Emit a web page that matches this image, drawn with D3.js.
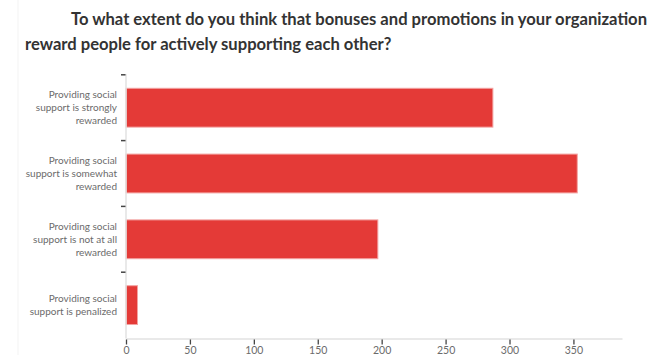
<!DOCTYPE html>
<html><head><meta charset="utf-8">
<script src="https://cdn.jsdelivr.net/npm/d3@7"></script>
<style>body{margin:0;background:#fff}svg{display:block}</style>
</head><body>
<svg id="chart" width="669" height="355"></svg>
<script>
const titleLines = [
  "To what extent do you think that bonuses and promotions in your organization",
  "reward people for actively supporting each other?"
];
const categories = [
  ["Providing social", "support is strongly", "rewarded"],
  ["Providing social", "support is somewhat", "rewarded"],
  ["Providing social", "support is not at all", "rewarded"],
  ["Providing social", "support is penalized"]
];
const values = [287, 353, 197, 9];
const xTicks = [0, 50, 100, 150, 200, 250, 300, 350];

const svg = d3.select("#chart");
svg.append("line").attr("x1",18).attr("x2",18).attr("y1",0).attr("y2",355)
  .attr("stroke","#f3f3f3").attr("stroke-width",1);

const x = d3.scaleLinear().domain([0, 388]).range([126, 622]);
const y = d3.scaleBand().domain(d3.range(categories.length)).range([74.8, 338])
  .paddingInner(0.41).paddingOuter(0.205);

// title
svg.append("g").selectAll("text").data(titleLines).join("text")
  .attr("x", (d,i) => i === 0 ? 71 : 25)
  .attr("y", (d,i) => 25 + i*24.5)
  .attr("font-family", "Lato, 'Open Sans', sans-serif")
  .attr("font-weight", "bold")
  .attr("font-size", 16.6)
  .attr("fill", "#333")
  .text(d => d);

// bars
svg.append("g").selectAll("rect").data(values).join("rect")
  .attr("x", x(0))
  .attr("y", (d,i) => y(i))
  .attr("width", d => x(d) - x(0))
  .attr("height", y.bandwidth())
  .attr("fill", "#e43a37")
  .attr("stroke", "#f3a3a2")
  .attr("stroke-width", 1);

// y axis
const yAxisG = svg.append("g");
yAxisG.append("line").attr("x1", 126).attr("x2", 126).attr("y1", 74).attr("y2", 338.5)
  .attr("stroke", "#e2e2e2").attr("stroke-width", 1.5);
const sep = d3.range(categories.length).map(i => y(i) + y.bandwidth()/2 - y.step()/2);
yAxisG.selectAll("line.t").data(sep).join("line").attr("class","t")
  .attr("x1", 121).attr("x2", 125.5).attr("y1", d => d).attr("y2", d => d)
  .attr("stroke", "#444").attr("stroke-width", 1.5);

// y labels
const lab = svg.append("g").selectAll("text").data(categories).join("text")
  .attr("text-anchor", "end")
  .attr("font-family", "Lato, 'Open Sans', sans-serif")
  .attr("font-size", 10)
  .attr("fill", "#6b6b6b");
lab.each(function(lines, i) {
  const c = y(i) + y.bandwidth()/2;
  const lh = 13;
  d3.select(this).selectAll("tspan").data(lines).join("tspan")
    .attr("x", 117)
    .attr("y", (d,j) => c + (j - (lines.length-1)/2)*lh + 3.5)
    .text(d => d);
});

// x axis
const xAxis = d3.axisBottom(x).tickValues(xTicks).tickSize(5).tickPadding(3).tickSizeOuter(0);
const xg = svg.append("g").attr("transform", "translate(0,338.5)").call(xAxis);
xg.select(".domain").attr("stroke", "#e2e2e2").attr("stroke-width", 1.5);
xg.selectAll(".tick line").attr("stroke", "#444").attr("stroke-width", 1.3)
  .attr("y1", 1).attr("y2", 6);
xg.selectAll(".tick text").attr("font-family", "Lato, 'Open Sans', sans-serif")
  .attr("font-size", 10.5).attr("fill", "#6b6b6b");
</script>
</body></html>
